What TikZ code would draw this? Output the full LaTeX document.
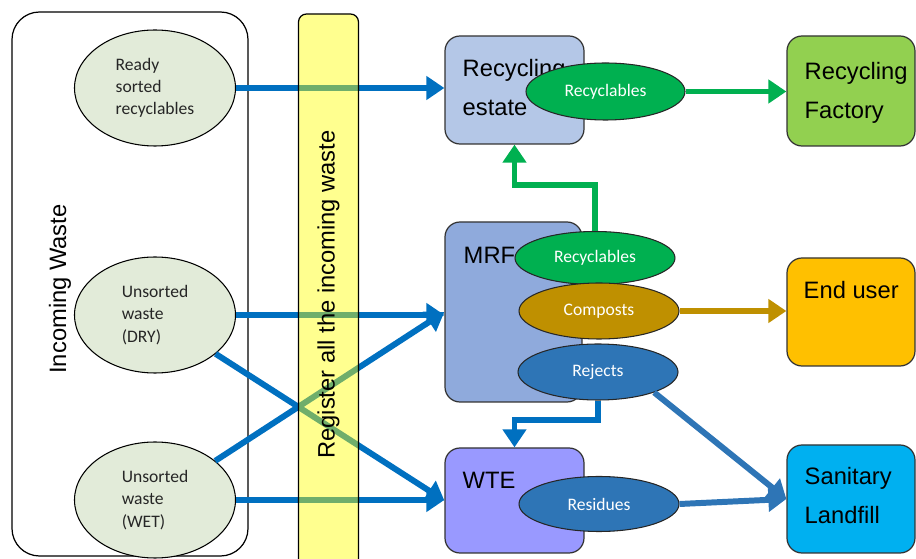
\documentclass[tikz,border=0pt]{standalone}
\usepackage{fontspec}
\setmainfont{Liberation Sans}
\newfontfamily\calfont{Carlito}
\usepackage{tikz}
\usetikzlibrary{arrows.meta, positioning, shapes.geometric}
\usepackage{xcolor}
\definecolor{flowblue}{HTML}{0070C0}
\definecolor{rejblue}{HTML}{2E75B6}
\definecolor{recgreen}{HTML}{00B050}
\definecolor{compgold}{HTML}{BF9000}
\definecolor{srcfill}{HTML}{E2EBD9}
\definecolor{estatefill}{HTML}{B4C7E7}
\definecolor{mrffill}{HTML}{8FAADC}
\definecolor{wtefill}{HTML}{9999FF}
\definecolor{factfill}{HTML}{92D050}
\definecolor{userfill}{HTML}{FFC000}
\definecolor{lfillcol}{HTML}{00B0F0}
\definecolor{regyellow}{RGB}{255,255,0}
\newcommand{\plantsize}{\fontsize{13.5}{22}\selectfont}
\newcommand{\sidesize}{\fontsize{13.5}{16}\selectfont}
\tikzset{
  srcell/.style ={draw, ellipse, minimum width=3.22cm, minimum height=2.32cm, inner sep=0pt, fill=srcfill, align=left, text=black!85, font=\calfont\fontsize{10}{12.7}\selectfont, line width=0.6pt},
  stream/.style ={draw=black!85, ellipse, minimum width=3.2cm, minimum height=1.12cm, inner sep=0pt, text=white, font=\calfont\fontsize{10}{12}\selectfont, line width=0.6pt},
  plant/.style  ={draw=black!80, rounded corners=3mm, minimum width=2.78cm, minimum height=2.16cm, line width=0.7pt},
  sink/.style   ={plant, minimum width=2.56cm},
  ptxt/.style   ={inner sep=0pt, align=left, font=\plantsize},
  flow/.style   ={-{Triangle[length=3.6mm, width=4.6mm]}, line width=3.4pt, flowblue},
}
\begin{document}
\begin{tikzpicture}
  \useasboundingbox (0,0) rectangle (18.32,-11.18);

  % incoming waste
  \node[draw, rounded corners=5.5mm, line width=0.7pt, minimum width=4.72cm, minimum height=10.88cm] (inbox) at (2.6,-5.68) {};
  \node[rotate=90, font=\sidesize] (inlbl) at (1.2,-5.78) {Incoming Waste};
  \node[srcell] (ready) at (3.1,-1.76) {Ready\\sorted\\recyclables};
  \node[srcell] (dry)   at (3.1,-6.3)  {Unsorted\\waste\\(DRY)};
  \node[srcell] (wet)   at (3.1,-10.0) {Unsorted\\waste\\(WET)};

  % plants and end points
  \node[plant, fill=estatefill] (estate) at (10.29,-1.8) {};
  \node[plant, fill=mrffill, minimum width=2.74cm, minimum height=3.6cm] (mrf) at (10.27,-6.24) {};
  \node[plant, fill=wtefill, minimum height=2.1cm] (wte) at (10.29,-10.01) {};
  \node[sink, fill=factfill, minimum height=2.2cm] (factory) at (17.02,-1.82) {};
  \node[sink, fill=userfill] (enduser) at (17.02,-6.24) {};
  \node[sink, fill=lfillcol] (landfill) at (17.02,-9.98) {};

  \node[ptxt, below right=0.48cm and 0.36cm of estate.north west] (estatetxt) {Recycling\\estate};
  \node[ptxt, below right=0.5cm and 0.38cm of mrf.north west] (mrftxt) {MRF};
  \node[ptxt, below right=0.48cm and 0.36cm of wte.north west] (wtetxt) {WTE};
  \node[ptxt, below right=0.54cm and 0.36cm of factory.north west] (facttxt) {Recycling\\Factory};
  \node[ptxt, below right=0.48cm and 0.34cm of enduser.north west] (usertxt) {End user};
  \node[ptxt, below right=0.46cm and 0.36cm of landfill.north west] (filltxt) {Sanitary\\Landfill};

  % output streams
  \node[stream, fill=recgreen, minimum width=3.18cm, minimum height=1.14cm] (recest) at (12.11,-1.83) {Recyclables};
  \node[stream, fill=recgreen, minimum height=1.06cm] (recmrf) at (11.9,-5.16) {Recyclables};
  \node[stream, fill=compgold] (comp) at (11.98,-6.22) {Composts};
  \node[stream, fill=rejblue] (rej) at (11.96,-7.44) {Rejects};
  \node[stream, fill=rejblue, minimum height=1.1cm] (resid) at (11.98,-10.08) {Residues};

  % flows
  \draw[flow] (ready.east) -- (ready.east -| estate.west);
  \draw[flow] (dry.east) -- (dry.east -| mrf.west);
  \draw[flow] (dry) -- (wte.west);
  \draw[flow] (wet) -- (mrf.west);
  \draw[flow] (wet.east) -- (wet.east -| wte.west);
  \draw[flow, recgreen] (recest.east) -- (recest.east -| factory.west);
  \draw[flow, recgreen] (recmrf.north) -- ++(0,0.92) -| (estate.south);
  \draw[flow, compgold] (comp.east) -- (comp.east -| enduser.west);
  \draw[flow] (rej.south) -- ++(0,-0.38) -| (wte.north);
  \draw[flow, rejblue] (rej.-20) -- (landfill.west);
  \draw[flow, rejblue] (resid.east) -- (landfill.west);

  % register bar over the flows
  \node[draw, rotate=90, rounded corners=1.6mm, fill=regyellow, fill opacity=0.44, text opacity=1, draw opacity=1, line width=0.7pt,
        minimum width=11.22cm, minimum height=1.2cm, font=\sidesize] (reg) at (6.57,-5.89) {Register all the incoming waste};
\end{tikzpicture}
\end{document}
